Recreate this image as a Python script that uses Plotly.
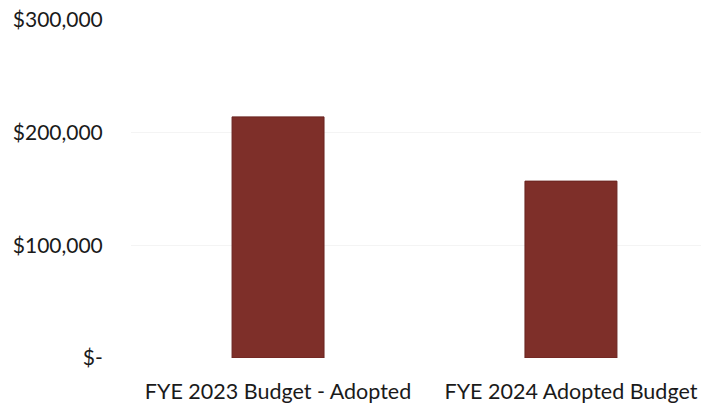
import plotly.graph_objects as go

categories = ["FYE 2023 Budget - Adopted", "FYE 2024 Adopted Budget"]
values = [214000, 157000]
tick_vals = [0, 100000, 200000, 300000]
tick_text = ["$-", "$100,000", "$200,000", "$300,000"]

fig = go.Figure(go.Bar(
    x=categories, y=values,
    marker=dict(color="#7e2f29", line=dict(color="#6a2420", width=1)),
    width=0.314,
))
fig.update_layout(
    width=701, height=406,
    margin=dict(l=131, r=0, t=20, b=48),
    paper_bgcolor="white", plot_bgcolor="white",
    font=dict(family="Lato", size=21, color="#1a1a1a"),
    showlegend=False,
    xaxis=dict(range=[-0.502, 1.444], showgrid=False, showline=False,
               ticks="outside", ticklen=14, tickcolor="rgba(0,0,0,0)",
               tickfont=dict(size=21.5)),
    yaxis=dict(range=[0, 300000], tickvals=tick_vals, ticktext=tick_text,
               showgrid=True, gridcolor="#f4f4f4", gridwidth=1,
               zeroline=False, showline=False,
               ticks="outside", ticklen=23, tickcolor="rgba(0,0,0,0)",
               tickfont=dict(size=21)),
)
fig.write_html("out.html")
